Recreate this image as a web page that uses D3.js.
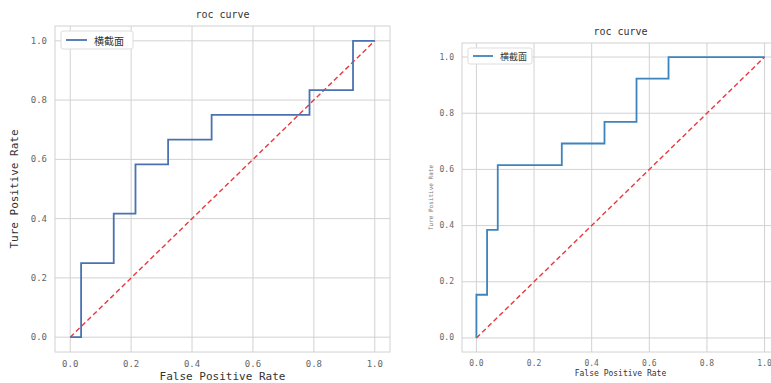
<!DOCTYPE html>
<html>
<head>
<meta charset="utf-8">
<script src="https://cdn.jsdelivr.net/npm/d3@7"></script>
<style>
  body { margin: 0; background: #fff; }
  text { font-family: "DejaVu Sans Mono", monospace; }
</style>
</head>
<body>
<div id="chart"></div>
<script>
// left panel roc points
const leftFpr = [0, 1/28, 1/28, 4/28, 4/28, 6/28, 6/28, 9/28, 9/28, 13/28, 13/28, 22/28, 22/28, 26/28, 26/28, 1];
const leftTpr = [0, 0, 3/12, 3/12, 5/12, 5/12, 7/12, 7/12, 8/12, 8/12, 9/12, 9/12, 10/12, 10/12, 1, 1];

// right panel roc points
const rightFpr = [0, 0, 1/27, 1/27, 2/27, 2/27, 8/27, 8/27, 12/27, 12/27, 15/27, 15/27, 18/27, 18/27, 1];
const rightTpr = [0, 2/13, 2/13, 5/13, 5/13, 8/13, 8/13, 9/13, 9/13, 10/13, 10/13, 12/13, 12/13, 1, 1];

const ticks = [0, 0.2, 0.4, 0.6, 0.8, 1.0];
const legendLabel = '横截面';
const title = 'roc curve';

const svg = d3.select('#chart').append('svg').attr('width', 771).attr('height', 383);

function drawRoc(p) {
  const x = d3.scaleLinear().domain([-0.05, 1.05]).range([p.left, p.right]);
  const y = d3.scaleLinear().domain([-0.05, 1.05]).range([p.bottom, p.top]);
  const g = svg.append('g');

  // grid
  g.selectAll('.gx').data(ticks).enter().append('line')
    .attr('x1', d => x(d)).attr('x2', d => x(d))
    .attr('y1', p.top).attr('y2', p.bottom)
    .style('stroke', '#d2d2d2').style('stroke-width', 1);
  g.selectAll('.gy').data(ticks).enter().append('line')
    .attr('x1', p.left).attr('x2', p.right)
    .attr('y1', d => y(d)).attr('y2', d => y(d))
    .style('stroke', '#d2d2d2').style('stroke-width', 1);

  g.append('rect')
    .attr('x', p.left).attr('y', p.top)
    .attr('width', p.right - p.left).attr('height', p.bottom - p.top)
    .style('fill', 'none').style('stroke', '#d2d2d2');

  // tick labels
  g.selectAll('.tx').data(ticks).enter().append('text')
    .attr('x', d => x(d)).attr('y', p.bottom + p.tickSize + 6)
    .attr('text-anchor', 'middle')
    .style('font-size', p.tickSize + 'px').style('fill', '#666')
    .text(d => d.toFixed(1));
  g.selectAll('.ty').data(ticks).enter().append('text')
    .attr('x', p.left - 8).attr('y', d => y(d))
    .attr('text-anchor', 'end').attr('dominant-baseline', 'central')
    .style('font-size', p.tickSize + 'px').style('fill', '#666')
    .text(d => d.toFixed(1));

  // diagonal
  g.append('line')
    .attr('x1', x(0)).attr('y1', y(0)).attr('x2', x(1)).attr('y2', y(1))
    .style('stroke', '#e8383d').style('stroke-width', 1.4)
    .style('stroke-dasharray', '5,3');

  const pts = p.fpr.map((f, i) => [f, p.tpr[i]]);
  const line = d3.line().x(d => x(d[0])).y(d => y(d[1]));
  g.append('path').datum(pts).attr('d', line)
    .style('fill', 'none').style('stroke', p.color).style('stroke-width', 1.8);

  // title and axis labels
  g.append('text')
    .attr('x', (p.left + p.right) / 2).attr('y', p.top - 8)
    .attr('text-anchor', 'middle')
    .style('font-size', '10px').style('fill', '#333')
    .text(title);
  g.append('text')
    .attr('x', (p.left + p.right) / 2).attr('y', p.xLabelY)
    .attr('text-anchor', 'middle')
    .style('font-size', p.labelSize + 'px').style('fill', '#333')
    .text('False Positive Rate');
  g.append('text')
    .attr('transform', `translate(${p.yLabelX},${(p.top + p.bottom) / 2}) rotate(-90)`)
    .attr('text-anchor', 'middle')
    .style('font-size', p.yLabelSize + 'px').style('fill', p.yLabelColor)
    .text('Ture Positive Rate');

  // legend
  const lg = g.append('g').attr('transform', `translate(${p.left + 6},${p.top + 5})`);
  lg.append('rect')
    .attr('width', p.legendW).attr('height', p.legendH).attr('rx', 2)
    .style('fill', '#fff').style('stroke', '#ddd');
  lg.append('line')
    .attr('x1', 5).attr('x2', 5 + p.legendLine)
    .attr('y1', p.legendH / 2).attr('y2', p.legendH / 2)
    .style('stroke', p.color).style('stroke-width', 1.8);
  lg.append('text')
    .attr('x', 12 + p.legendLine).attr('y', p.legendH / 2)
    .attr('dominant-baseline', 'central')
    .style('font-family', '"Noto Sans CJK SC", sans-serif')
    .style('font-size', p.legendFont + 'px').style('fill', '#333')
    .text(legendLabel);
}

drawRoc({
  left: 55, right: 390, top: 26, bottom: 352,
  fpr: leftFpr, tpr: leftTpr, color: '#4a72b2',
  tickSize: 9, labelSize: 11, xLabelY: 380, yLabelX: 18,
  yLabelSize: 11, yLabelColor: '#333',
  legendW: 72, legendH: 18, legendLine: 21, legendFont: 10
});

drawRoc({
  left: 462, right: 779, top: 43, bottom: 352,
  fpr: rightFpr, tpr: rightTpr, color: '#3d84bd',
  tickSize: 8, labelSize: 8, xLabelY: 376, yLabelX: 433,
  yLabelSize: 6, yLabelColor: '#777',
  legendW: 64, legendH: 16, legendLine: 20, legendFont: 9
});
</script>
</body>
</html>
